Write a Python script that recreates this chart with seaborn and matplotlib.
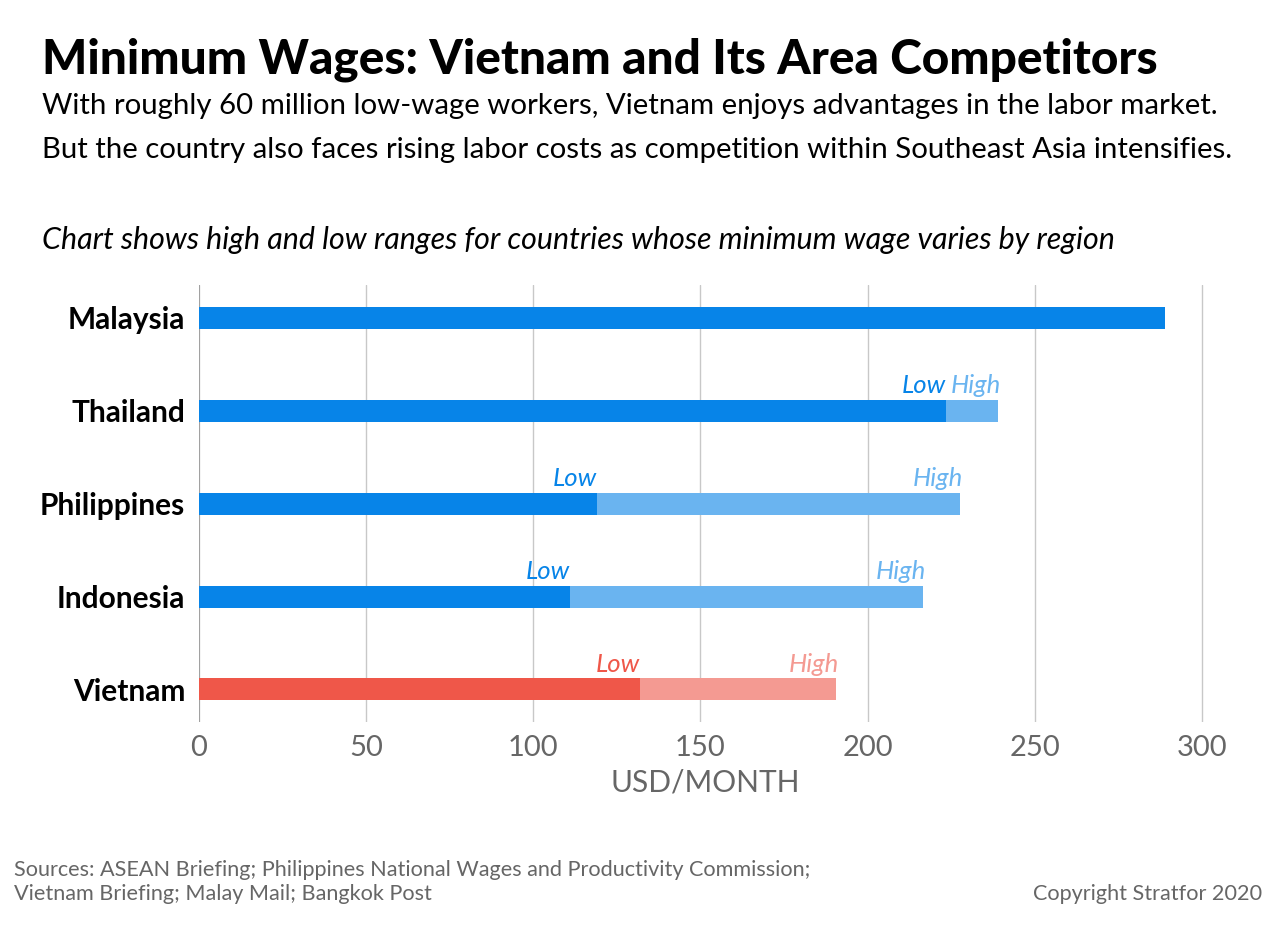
import numpy as np
import pandas as pd
import matplotlib
matplotlib.use("Agg")
import matplotlib.pyplot as plt
import seaborn as sns

# data (USD/month)
countries = ['Malaysia', 'Thailand', 'Philippines', 'Indonesia', 'Vietnam']
low_wage = [289, 223.5, 119, 111, 132]
high_wage = [289, 239, 227.5, 216.5, 190.5]
has_range = [False, True, True, True, True]
x_ticks = [0, 50, 100, 150, 200, 250, 300]

dark = {'Malaysia': '#0784e8', 'Thailand': '#0784e8', 'Philippines': '#0784e8',
        'Indonesia': '#0784e8', 'Vietnam': '#ef5749'}
light = {'Malaysia': '#0784e8', 'Thailand': '#6ab4f0', 'Philippines': '#6ab4f0',
         'Indonesia': '#6ab4f0', 'Vietnam': '#f49a92'}

df = pd.DataFrame({'country': countries, 'low': low_wage, 'high': high_wage})

sns.set_theme(style="white")
plt.rcParams['font.family'] = ['Lato', 'DejaVu Sans']

fig = plt.figure(figsize=(12.8, 9.27), dpi=100)
ax = fig.add_axes([199 / 1280, 1 - 722 / 927, 1013 / 1280, 437 / 927])

bar_h = 0.237
sns.barplot(data=df, y='country', x='high', hue='country', palette=light,
            order=countries, orient='h', width=bar_h, legend=False,
            saturation=1, linewidth=0, ax=ax, zorder=3)
sns.barplot(data=df, y='country', x='low', hue='country', palette=dark,
            order=countries, orient='h', width=bar_h, legend=False,
            saturation=1, linewidth=0, ax=ax, zorder=4)

for i, c in enumerate(countries):
    if not has_range[i]:
        continue
    ax.text(low_wage[i], i - 0.19, 'Low', ha='right', va='baseline',
            fontsize=18.5, style='italic', color=dark[c], zorder=5)
    ax.text(high_wage[i] + 1, i - 0.19, 'High', ha='right', va='baseline',
            fontsize=18.5, style='italic', color=light[c], zorder=5)

ax.set_xlim(0, 303)
ax.set_ylim(4.35, -0.355)
ax.set_xticks(x_ticks)
ax.xaxis.grid(True, color='#c8c8c8', lw=1)
ax.set_axisbelow(True)
ax.axvline(0, color='#9a9a9a', lw=1.2, zorder=2)
for s in ax.spines.values():
    s.set_visible(False)
ax.tick_params(axis='x', length=0, pad=9, labelsize=21, labelcolor='#666666')
ax.tick_params(axis='y', length=0, pad=10)
for lab in ax.get_yticklabels():
    lab.set_fontsize(21.5)
    lab.set_fontweight('bold')
    lab.set_color('black')
ax.set_ylabel('')
ax.set_xlabel('USD/MONTH', fontsize=21.5, color='#666666', labelpad=6)

fig.text(42 / 1280, 1 - 60 / 927, 'Minimum Wages: Vietnam and Its Area Competitors',
         fontsize=34.4, fontweight='black', color='black', va='center')
fig.text(42 / 1280, 1 - 106 / 927,
         'With roughly 60 million low-wage workers, Vietnam enjoys advantages in the labor market.',
         fontsize=21.2, color='black', va='center')
fig.text(42 / 1280, 1 - 150 / 927,
         'But the country also faces rising labor costs as competition within Southeast Asia intensifies.',
         fontsize=21.2, color='black', va='center')
fig.text(42 / 1280, 1 - 240 / 927,
         'Chart shows high and low ranges for countries whose minimum wage varies by region',
         fontsize=21.9, style='italic', color='black', va='center')

fig.text(14 / 1280, 1 - 870 / 927,
         'Sources: ASEAN Briefing; Philippines National Wages and Productivity Commission;',
         fontsize=15.6, color='#666666', va='center')
fig.text(14 / 1280, 1 - 894 / 927, 'Vietnam Briefing; Malay Mail; Bangkok Post',
         fontsize=15.6, color='#666666', va='center')
fig.text(1262 / 1280, 1 - 894 / 927, 'Copyright Stratfor 2020',
         fontsize=15.6, color='#666666', va='center', ha='right')

fig.savefig('out.png', dpi=100)
